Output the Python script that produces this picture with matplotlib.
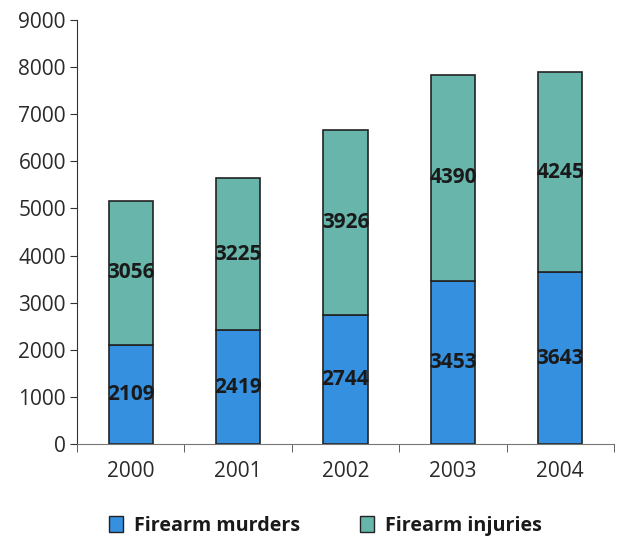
import numpy as np
import matplotlib
matplotlib.use('Agg')
import matplotlib.pyplot as plt
from matplotlib.patches import Patch

plt.rcParams['font.family'] = ['Open Sans', 'DejaVu Sans']

# --- DATOS ---
years = ['2000', '2001', '2002', '2003', '2004']
murders = [2109, 2419, 2744, 3453, 3643]
injuries = [3056, 3225, 3926, 4390, 4245]

c_murders = '#3590e0'
c_injuries = '#68b6ab'

fig = plt.figure(figsize=(6.17, 5.39), dpi=100)
ax = fig.add_axes([77/617, 1-444/539, (614-77)/617, (444-20)/539])

x = np.arange(len(years))
w = 0.41
ax.bar(x, murders, w, color=c_murders, edgecolor='#222222', linewidth=1.2)
ax.bar(x, injuries, w, bottom=murders, color=c_injuries, edgecolor='#222222', linewidth=1.2)

for xi, m, inj in zip(x, murders, injuries):
    ax.text(xi, m/2, str(m), ha='center', va='center', fontsize=15, fontweight='bold', color='#1a1a1a')
    ax.text(xi, m + inj/2, str(inj), ha='center', va='center', fontsize=15, fontweight='bold', color='#1a1a1a')

ax.set_xlim(-0.5, len(years)-0.5)
ax.set_ylim(0, 9000)
ax.set_yticks(range(0, 9001, 1000))
ax.tick_params(axis='y', labelsize=15, length=5, color='#333333', labelcolor='#2a2a2a', pad=3)
ax.set_xticks(x)
ax.set_xticklabels(years)
ax.set_xticks(np.arange(-0.5, len(years), 1), minor=True)
ax.tick_params(axis='x', which='major', length=0, labelsize=15, labelcolor='#2a2a2a', pad=12)
ax.tick_params(axis='x', which='minor', length=6, color='#444444')

for s in ['top', 'right']:
    ax.spines[s].set_visible(False)
ax.spines['left'].set_color('#333333')
ax.spines['bottom'].set_color('#777777')

handles = [Patch(facecolor=c_murders, edgecolor='#222222', label='Firearm murders'),
           Patch(facecolor=c_injuries, edgecolor='#222222', label='Firearm injuries')]
fig.legend(handles=handles, loc='center', bbox_to_anchor=(0.527, 0.025), ncol=2, frameon=False,
           prop={'size': 14.2, 'weight': 'bold'}, handlelength=0.7, handleheight=0.9,
           handletextpad=0.55, columnspacing=3.05, labelcolor='#1a1a1a')

fig.savefig('out.png', dpi=100)
